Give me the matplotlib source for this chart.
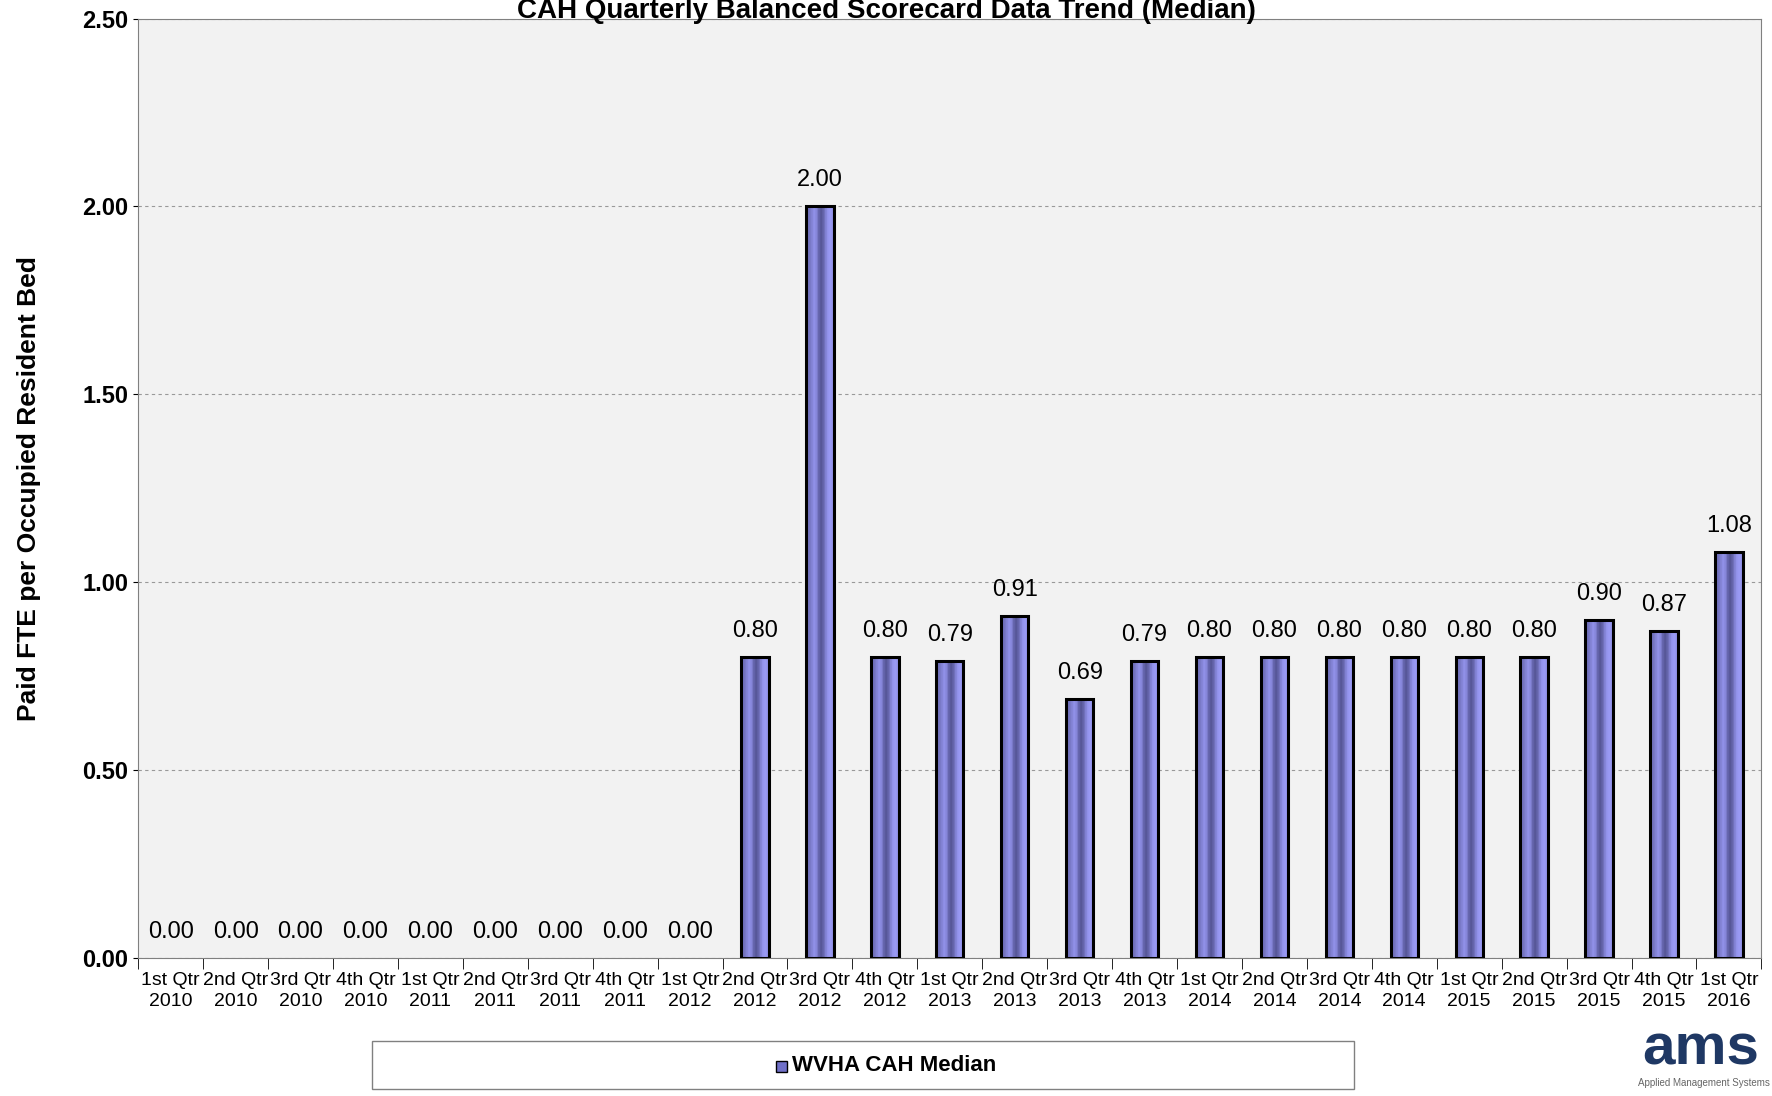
import matplotlib
matplotlib.use("Agg")
import matplotlib.pyplot as plt
from matplotlib import font_manager
import numpy as np

quarters = ["1st Qtr\n2010", "2nd Qtr\n2010", "3rd Qtr\n2010", "4th Qtr\n2010",
            "1st Qtr\n2011", "2nd Qtr\n2011", "3rd Qtr\n2011", "4th Qtr\n2011",
            "1st Qtr\n2012", "2nd Qtr\n2012", "3rd Qtr\n2012", "4th Qtr\n2012",
            "1st Qtr\n2013", "2nd Qtr\n2013", "3rd Qtr\n2013", "4th Qtr\n2013",
            "1st Qtr\n2014", "2nd Qtr\n2014", "3rd Qtr\n2014", "4th Qtr\n2014",
            "1st Qtr\n2015", "2nd Qtr\n2015", "3rd Qtr\n2015", "4th Qtr\n2015",
            "1st Qtr\n2016"]
median = [0.00, 0.00, 0.00, 0.00, 0.00, 0.00, 0.00, 0.00, 0.00, 0.80, 2.00, 0.80,
          0.79, 0.91, 0.69, 0.79, 0.80, 0.80, 0.80, 0.80, 0.80, 0.80, 0.90, 0.87, 1.08]

plt.rcParams["font.family"] = ["Liberation Sans", "DejaVu Sans"]
names = {f.name for f in font_manager.fontManager.ttflist}
narrow = "Liberation Sans Narrow" if "Liberation Sans Narrow" in names else "Liberation Sans"
tick_size = 17 if narrow == "Liberation Sans Narrow" else 14

fig = plt.figure(figsize=(17.72, 10.96), dpi=100)
ax = fig.add_axes([0.078, 0.126, 0.916, 0.857])
ax.set_facecolor("#f2f2f2")
x = np.arange(len(median))
bars = ax.bar(x, median, width=0.42, color="#8888e8", linewidth=0, zorder=3)

# horizontal shading across each bar
grad = np.array([0.55, 0.6, 0.75, 0.9, 0.8, 0.45, 0.3, 0.45, 0.75, 0.95, 1.0, 0.9])
cmap = matplotlib.colors.LinearSegmentedColormap.from_list("b", ["#3a3a70", "#9a9af5"])
for b in bars:
    if b.get_height() <= 0:
        continue
    im = ax.imshow(grad[None, :], cmap=cmap, vmin=0, vmax=1, aspect="auto",
                   extent=[b.get_x(), b.get_x() + b.get_width(), 0, b.get_height()],
                   zorder=3.5)
    im.set_clip_path(b)
    ax.add_patch(plt.Rectangle((b.get_x(), 0), b.get_width(), b.get_height(),
                               fill=False, edgecolor="black", linewidth=2.2, zorder=4))

for xi, v in zip(x, median):
    ax.text(xi, v + 0.04, f"{v:.2f}", ha="center", va="bottom", fontsize=17, zorder=5)

ax.set_xlim(-0.5, len(median) - 0.5)
ax.set_ylim(0, 2.5)
ax.set_yticks(np.arange(0, 2.51, 0.5))
ax.set_yticklabels([f"{t:.2f}" for t in np.arange(0, 2.51, 0.5)], fontsize=17, fontweight="bold")
ax.set_xticks(x)
ax.set_xticklabels(quarters, fontsize=tick_size, family=narrow, linespacing=1.3)
ax.set_xticks(np.arange(-0.5, len(median), 1), minor=True)
ax.tick_params(axis="x", which="major", length=0, pad=10)
ax.tick_params(axis="x", which="minor", length=8)
ax.grid(axis="y", linestyle=(0, (3, 3)), color="#999999", linewidth=0.8, zorder=0)
ax.set_axisbelow(True)
for s in ax.spines.values():
    s.set_color("#808080")
ax.set_ylabel("Paid FTE per Occupied Resident Bed", fontsize=19, fontweight="bold", labelpad=30)

fig.text(0.5, 1.002, "CAH Quarterly Balanced Scorecard Data Trend (Median)", ha="center",
         va="top", fontsize=20, fontweight="bold")

# legend box
fig.patches.append(plt.Rectangle((0.21, 0.006), 0.554, 0.044, transform=fig.transFigure,
                                 facecolor="white", edgecolor="#808080", linewidth=1))
fig.patches.append(plt.Rectangle((0.438, 0.022), 0.006, 0.010, transform=fig.transFigure,
                                 facecolor="#7070c8", edgecolor="black", linewidth=1))
fig.text(0.447, 0.028, "WVHA CAH Median", ha="left", va="center", fontsize=16,
         fontweight="bold", family=narrow)

fig.text(0.993, 0.042, "ams", ha="right", va="center", fontsize=42, fontweight="bold", color="#1f3864")
fig.text(0.999, 0.012, "Applied Management Systems", ha="right", va="center", fontsize=7, color="#666666")

fig.savefig("out.png", dpi=100)
